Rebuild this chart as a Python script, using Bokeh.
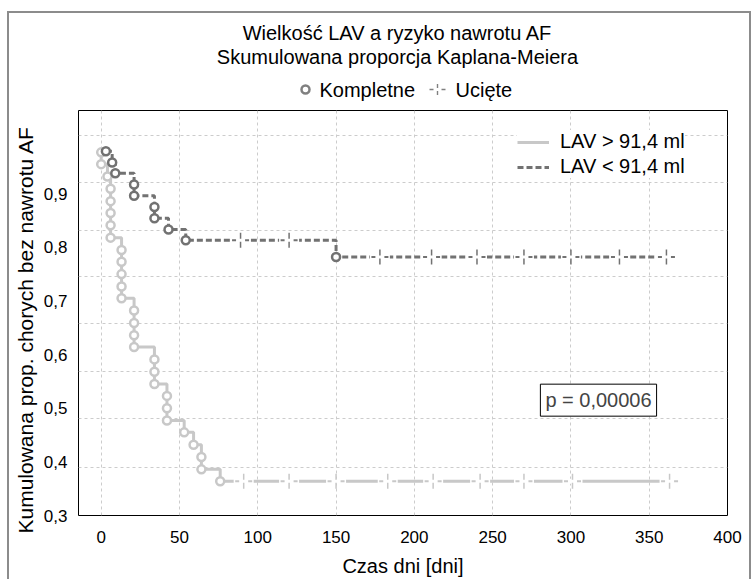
import numpy as np
from bokeh.plotting import figure
from bokeh.layouts import column
from bokeh.models import (Range1d, FixedTicker, Label, Legend, LegendItem, Title,
                          InlineStyleSheet)
from bokeh.core.properties import value
from bokeh.embed import file_html
from bokeh.resources import INLINE

# ---------------- data ----------------
# LAV > 91,4 ml : event (complete) times [days] and Kaplan-Meier proportion after each event
light_t = [0, 0, 4, 6, 6, 6, 6, 6, 13, 13, 13, 13, 13, 21, 21, 21, 21,
           34, 34, 34, 42, 42, 42, 53, 59, 64, 64, 76]
light_s = [0.977, 0.955, 0.932, 0.909, 0.886, 0.864, 0.841, 0.818, 0.795, 0.773,
           0.750, 0.727, 0.705, 0.682, 0.659, 0.636, 0.614, 0.591, 0.568, 0.545,
           0.523, 0.500, 0.477, 0.455, 0.432, 0.409, 0.386, 0.364]
light_cens = [91, 120, 150, 183, 212, 242, 270, 301, 363]

# LAV < 91,4 ml
dark_t = [3, 7, 9, 21, 21, 34, 34, 43, 54, 150]
dark_s = [0.979, 0.958, 0.938, 0.917, 0.896, 0.875, 0.854, 0.833, 0.813, 0.782]
dark_cens = [89, 120, 178, 211, 240, 270, 300, 331, 361]

series_names = ["LAV > 91,4 ml", "LAV < 91,4 ml"]
marker_names = ["Kompletne", "Ucięte"]
x_ticks = [0, 50, 100, 150, 200, 250, 300, 350, 400]
y_ticks = [0.3, 0.4, 0.5, 0.6, 0.7, 0.8, 0.9]
y_tick_labels = ["0,3", "0,4", "0,5", "0,6", "0,7", "0,8", "0,9"]
grid_y = [0.39, 0.48, 0.569, 0.658, 0.745, 0.832, 0.92, 1.008]

title_lines = ["Wielkość LAV a ryzyko nawrotu AF", "Skumulowana proporcja Kaplana-Meiera"]
x_title = "Czas dni [dni]"
y_title = "Kumulowana prop. chorych bez nawrotu AF"
p_text = "p = 0,00006"

# ---------------- styles ----------------
LIGHT = "#c8c8c8"
DARK = "#727272"
KEY = "#808080"
FONT = "Liberation Sans"
HEAD_H = 105
FRAME_L, FRAME_R = 78, 727   # plot frame edges in page pixels


def km_at(t_ev, s_ev, tc):
    idx = np.searchsorted(np.array(t_ev), np.array(tc), side="right") - 1
    return [s_ev[i] if i >= 0 else 1.0 for i in idx]


# ---------------- header: titles and marker key (page-pixel layout) ----------------
# (its frame is aligned with the main plot frame by the column layout)
h = figure(width=752, height=HEAD_H, x_range=Range1d(FRAME_L, FRAME_R),
           y_range=Range1d(HEAD_H, 0), output_backend="svg", toolbar_location=None,
           min_border=0)
h.axis.visible = False
h.grid.visible = False
h.outline_line_color = None
h.background_fill_color = "white"
h.border_fill_color = "white"
h.text(x=[397, 397], y=[32, 56], text=title_lines, text_align="center", text_baseline="middle",
       text_font=value(FONT), text_font_size=value("20px"), text_color="black")
h.text(x=[319, 455], y=[89, 89], text=marker_names, text_align="left", text_baseline="middle",
       text_font=value(FONT), text_font_size=value("20px"), text_color="black")
h.scatter(x=[305], y=[89], marker="circle", size=8, line_color=KEY, line_width=2.5,
          fill_color="white")
h.scatter(x=[437], y=[89], marker="dash", size=16, line_color=KEY, line_width=1.4,
          line_dash="4 8")
h.scatter(x=[437], y=[89], marker="dash", angle=np.pi / 2, size=11, line_color=KEY,
          line_width=1.4, line_dash="4 3")

# ---------------- main plot ----------------
p = figure(width=752, height=579 - HEAD_H, x_range=Range1d(-14.5, 400),
           y_range=Range1d(0.3, 1.055), output_backend="svg", toolbar_location=None,
           min_border_left=FRAME_L, min_border_right=752 - FRAME_R,
           min_border_top=110 - HEAD_H, min_border_bottom=62)
p.background_fill_color = "white"
p.border_fill_color = "white"
p.outline_line_color = "black"
p.outline_line_width = 1

p.xaxis.ticker = FixedTicker(ticks=x_ticks)
p.yaxis.ticker = FixedTicker(ticks=y_ticks)
p.yaxis.major_label_overrides = dict(zip(y_ticks, y_tick_labels))
p.xgrid.ticker = FixedTicker(ticks=x_ticks)
p.ygrid.ticker = FixedTicker(ticks=grid_y)
for g in (p.xgrid, p.ygrid):
    g.grid_line_color = "#cccccc"
    g.grid_line_dash = "3 3"
    g.grid_line_width = 1
for ax in (p.xaxis, p.yaxis):
    ax.axis_line_color = None
    ax.major_tick_line_color = None
    ax.minor_tick_line_color = None
    ax.major_label_text_font = FONT
    ax.major_label_text_font_size = "17px"
    ax.major_label_text_color = "black"
p.xaxis.major_label_standoff = 9
p.yaxis.major_label_standoff = 5
p.xaxis.axis_label = x_title
p.xaxis.axis_label_text_font = FONT
p.xaxis.axis_label_text_font_size = "20px"
p.xaxis.axis_label_text_font_style = "normal"
p.xaxis.axis_label_text_color = "black"
p.xaxis.axis_label_standoff = 9

# vertical axis title as a side title; it starts a little below the frame bottom
p.add_layout(Title(text=y_title, align="left", offset=-18, standoff=8, text_font=FONT,
                   text_font_size="21px", text_font_style="normal", text_color="black"),
             "left")


def draw_series(t_ev, s_ev, cens, color, dash):
    xs = list(t_ev) + [cens[-1]]
    ys = list(s_ev) + [s_ev[-1]]
    line = p.step(xs, ys, mode="after", line_color=color, line_width=3, line_dash=dash)
    cy = km_at(t_ev, s_ev, cens)
    p.scatter(cens, cy, marker="dash", size=20, line_color="white", line_width=5)
    p.scatter(cens, cy, marker="dash", size=17, line_color=color, line_width=2,
              line_dash="4 9")
    p.scatter(cens, cy, marker="dash", angle=np.pi / 2, size=15, line_color=color,
              line_width=1.5, line_dash="6 3")
    p.scatter(t_ev, s_ev, marker="circle", size=8, line_color=color, line_width=2.5,
              fill_color="white")
    return line


light_line = draw_series(light_t, light_s, light_cens, LIGHT, "solid")
dark_line = draw_series(dark_t, dark_s, dark_cens, DARK, "6 3")

legend = Legend(items=[LegendItem(label=series_names[0], renderers=[light_line]),
                       LegendItem(label=series_names[1], renderers=[dark_line])],
                location=(439, 337), background_fill_color="white", background_fill_alpha=1,
                border_line_color=None, label_text_font=FONT, label_text_font_size="20px",
                label_text_color="black",
                glyph_width=32, glyph_height=20, label_height=20, label_standoff=11,
                spacing=2, padding=6, margin=0)
p.add_layout(legend)

p.add_layout(Label(x=317.6, y=0.515, text=p_text, text_align="center", text_baseline="middle",
                   text_font=FONT, text_font_size="20px", border_line_color="black",
                   background_fill_color="white", padding=5))

layout = column(h, p, spacing=0)
# grey frame of the whole picture (open at the bottom)
layout.stylesheets = [InlineStyleSheet(css="""
:host { position: relative; }
:host::after { content: ''; position: absolute; left: 7px; top: 11px; width: 744px;
  height: 568px; border: 2px solid #8c8c8c; border-bottom: none; box-sizing: border-box;
  pointer-events: none; z-index: 10; }
""")]

open("out.html", "w").write(file_html(layout, INLINE))
